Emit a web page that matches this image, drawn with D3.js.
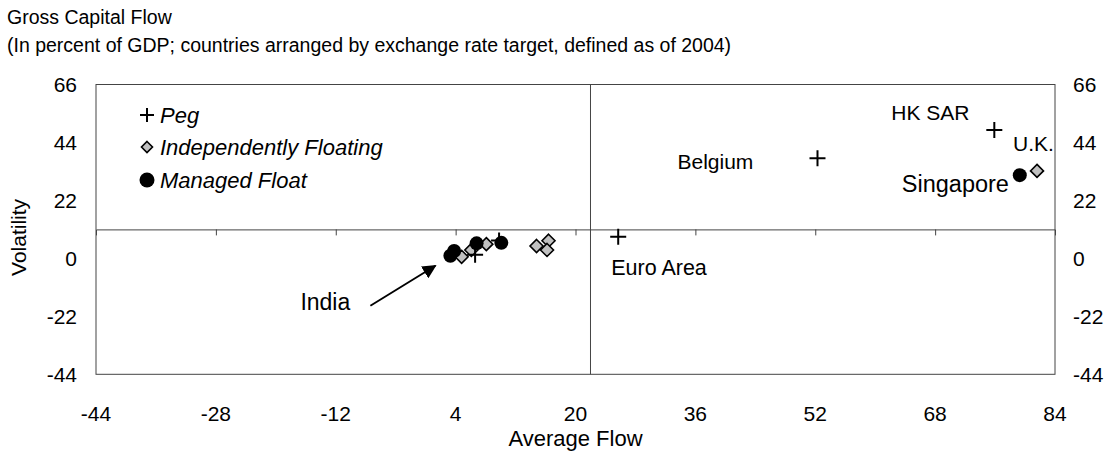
<!DOCTYPE html>
<html><head><meta charset="utf-8">
<script src="https://cdn.jsdelivr.net/npm/d3@7"></script>
<style>
html,body{margin:0;padding:0;background:#fff;}
svg{display:block;font-family:"Liberation Sans",Arial,sans-serif;}
</style></head>
<body>
<svg id="chart" width="1119" height="455"></svg>
<script>
const title = "Gross Capital Flow";
const subtitle = "(In percent of GDP; countries arranged by exchange rate target, defined as of 2004)";
const xTicks = [-44, -28, -12, 4, 20, 36, 52, 68, 84];
const yTicks = [-44, -22, 0, 22, 44, 66];
const xCross = 22, yCross = 11;
// [avg flow, volatility]
const pegX = [52.3, 75.9, 25.7, 6.6, 9.8];
const pegY = [38.0, 48.7, 8.2, 1.4, 6.8];
const indepX = [81.6, 4.8, 6.1, 8.1, 14.8, 16.4, 16.2];
const indepY = [33.2, 0.6, 3.2, 5.4, 4.7, 6.7, 3.2];
const manX = [79.3, 3.3, 3.8, 6.8, 10.1];
const manY = [31.6, 1.0, 2.8, 5.7, 5.9];
const legendNames = ["Peg", "Independently Floating", "Managed Float"];
const labels = [
  {t:"HK SAR", x:75.9, y:48.7, dx:-103, dy:-10, size:21},
  {t:"U.K.", x:81.6, y:33.2, dx:-24, dy:-20, size:21},
  {t:"Belgium", x:52.3, y:38.0, dx:-140, dy:11, size:21},
  {t:"Singapore", x:79.3, y:31.6, dx:-118, dy:17, size:23.5},
  {t:"Euro Area", x:25.7, y:8.2, dx:-7, dy:38, size:21.5},
  {t:"India", x:3.3, y:1.0, dx:-150, dy:54, size:23}
];

const svg = d3.select("#chart");
const L = 96, R = 1055, T = 84.5, B = 374.3;
const x = d3.scaleLinear().domain([-44, 84]).range([L, R]);
const y = d3.scaleLinear().domain([-44, 66]).range([B, T]);
const ink = "#000";
const fs = 21;

svg.append("text").attr("x", 7).attr("y", 24).attr("font-size", 19.5).text(title);
svg.append("text").attr("x", 7).attr("y", 52).attr("font-size", 19.5).text(subtitle);

// frame
svg.append("rect").attr("x", L).attr("y", T).attr("width", R - L).attr("height", B - T)
  .attr("fill", "none").attr("stroke", "#444").attr("stroke-width", 1);

// crossing axes
const xAxis = d3.axisBottom(x).tickValues(xTicks.slice(1, -1)).tickSize(6).tickFormat("");
const gx = svg.append("g").attr("transform", `translate(0,${y(yCross)})`).call(xAxis);
gx.select(".domain").attr("stroke", "#444");
gx.selectAll(".tick line").attr("stroke", "#444");
svg.append("line").attr("x1", x(xCross)).attr("x2", x(xCross)).attr("y1", T).attr("y2", B)
  .attr("stroke", "#444");

// tick labels
svg.append("g").selectAll("text").data(xTicks).join("text")
  .attr("x", d => x(d)).attr("y", 421).attr("text-anchor", "middle").attr("font-size", fs).text(d => d);
svg.append("g").selectAll("text").data(yTicks).join("text")
  .attr("x", 77).attr("y", d => y(d) + 7.5).attr("text-anchor", "end").attr("font-size", fs).text(d => d);
svg.append("g").selectAll("text").data(yTicks).join("text")
  .attr("x", 1073).attr("y", d => y(d) + 7.5).attr("text-anchor", "start").attr("font-size", fs).text(d => d);

svg.append("text").attr("x", x(20)).attr("y", 446).attr("text-anchor", "middle").attr("font-size", 22).text("Average Flow");
svg.append("text").attr("transform", `translate(26,${y(yCross) + 8}) rotate(-90)`).attr("text-anchor", "middle")
  .attr("font-size", fs).text("Volatility");

// markers
const plusPath = s => `M${-s},0H${s}M0,${-s}V${s}`;
const diamondPath = s => `M0,${-s}L${s},0L0,${s}L${-s},0Z`;

const pegPts = pegX.map((v, i) => [v, pegY[i]]);
const indPts = indepX.map((v, i) => [v, indepY[i]]);
const manPts = manX.map((v, i) => [v, manY[i]]);

svg.append("g").selectAll("path").data(indPts).join("path")
  .attr("transform", d => `translate(${x(d[0])},${y(d[1])})`)
  .attr("d", diamondPath(6.5)).attr("fill", "#c0c0c0").attr("stroke", ink).attr("stroke-width", 1.6);
svg.append("g").selectAll("circle").data(manPts).join("circle")
  .attr("cx", d => x(d[0])).attr("cy", d => y(d[1])).attr("r", 7).attr("fill", ink);
svg.append("g").selectAll("path").data(pegPts).join("path")
  .attr("transform", d => `translate(${x(d[0])},${y(d[1])})`)
  .attr("d", plusPath(8)).attr("fill", "none").attr("stroke", ink).attr("stroke-width", 2);

// labels
svg.append("g").selectAll("text").data(labels).join("text")
  .attr("x", d => x(d.x) + d.dx).attr("y", d => y(d.y) + d.dy).attr("font-size", d => d.size).text(d => d.t);

// India arrow
svg.append("defs").append("marker").attr("id", "ah").attr("viewBox", "0 0 10 10").attr("refX", 9).attr("refY", 5)
  .attr("markerWidth", 7).attr("markerHeight", 7).attr("orient", "auto")
  .append("path").attr("d", "M0,0L10,5L0,10Z").attr("fill", ink);
svg.append("line").attr("x1", x(3.3) - 80).attr("y1", y(1.0) + 50)
  .attr("x2", x(3.3) - 15).attr("y2", y(1.0) + 10)
  .attr("stroke", ink).attr("stroke-width", 2).attr("marker-end", "url(#ah)");

// legend
const lg = svg.append("g");
const ly = [115, 147, 180];
lg.append("path").attr("transform", `translate(147,${ly[0]})`).attr("d", plusPath(7)).attr("stroke", ink).attr("stroke-width", 2);
lg.append("path").attr("transform", `translate(147,${ly[1]})`).attr("d", diamondPath(5.5)).attr("fill", "#c0c0c0").attr("stroke", ink).attr("stroke-width", 1.6);
lg.append("circle").attr("cx", 147).attr("cy", ly[2]).attr("r", 7.5).attr("fill", ink);
lg.selectAll("text").data(legendNames).join("text")
  .attr("x", 160).attr("y", (d, i) => ly[i] + 7.5).attr("font-size", 22).attr("font-style", "italic").text(d => d);
</script>
</body></html>
